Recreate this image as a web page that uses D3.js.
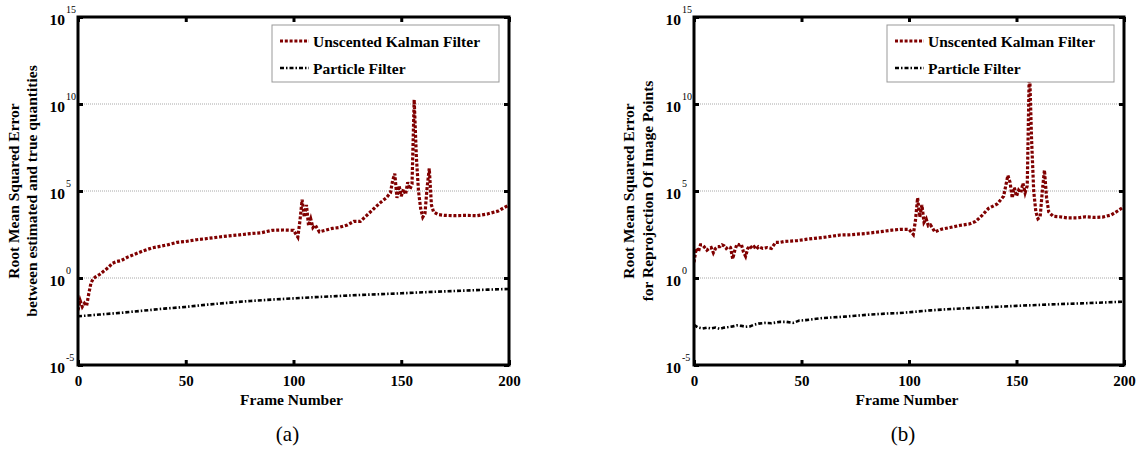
<!DOCTYPE html>
<html>
<head>
<meta charset="utf-8">
<script src="https://cdn.jsdelivr.net/npm/d3@7"></script>
<style>
  body { margin: 0; background: #fff; }
  svg { display: block; }
  svg text { font-family: "Liberation Serif", "DejaVu Serif", Times, serif !important; }
</style>
</head>
<body>
<svg id="chart" width="1139" height="452"></svg>
<script>
// values as log10 of the RMSE, [frame, log10]
const frameTicks = [0, 50, 100, 150, 200];
const decadeTicks = [-5, 0, 5, 10, 15];
const gridDecades = [0, 5, 10];

const ukfA = [[0,-1.85],[1,-1.3],[2,-1.65],[3,-1.45],[4,-1.6],[5,-0.9],[6,-0.3],[7,-0.05],[8,0.05],
  [10,0.2],[12,0.4],[14,0.6],[16,0.85],[18,0.95],[20,1.0],[23,1.2],[26,1.35],[30,1.55],[34,1.72],
  [38,1.82],[42,1.92],[46,2.05],[50,2.1],[55,2.2],[60,2.27],[65,2.35],[70,2.42],[75,2.48],[80,2.55],
  [85,2.6],[90,2.74],[95,2.76],[100,2.74],[102,2.35],[103,3.3],[104,4.5],[105,3.5],[106,4.2],[107,3.0],
  [108,3.4],[109,2.9],[110,3.05],[112,2.65],[115,2.75],[118,2.85],[121,2.9],[125,3.05],[128,3.25],
  [131,3.25],[134,3.6],[137,3.95],[140,4.3],[143,4.6],[145,4.9],[146,5.6],[147,6.0],[148,4.6],[149,5.3],
  [150,4.7],[151,5.1],[152,4.8],[153,5.5],[154,5.1],[155,5.4],[156,10.25],[157,7.0],[158,5.0],[159,4.0],
  [160,3.5],[161,3.7],[162,5.2],[163,6.3],[164,4.2],[165,3.8],[167,3.65],[170,3.6],[175,3.58],[180,3.6],
  [185,3.58],[190,3.68],[195,3.85],[200,4.2]];

const pfA = [[0,-2.2],[10,-2.1],[20,-2.0],[30,-1.88],[40,-1.76],[50,-1.66],[60,-1.53],[70,-1.42],
  [80,-1.32],[90,-1.24],[100,-1.17],[110,-1.1],[120,-1.04],[130,-0.98],[140,-0.93],[150,-0.88],
  [160,-0.82],[170,-0.77],[180,-0.72],[190,-0.67],[200,-0.63]];

const ukfB = [[0,0.9],[1,1.7],[2,1.5],[3,1.9],[4,1.9],[5,1.75],[6,1.6],[7,1.7],[8,1.75],[9,1.45],
  [10,1.7],[11,1.8],[12,1.8],[13,1.9],[14,1.85],[15,1.7],[16,1.8],[17,1.75],[18,1.1],[19,1.6],[20,1.95],
  [21,1.9],[22,1.95],[23,1.5],[24,1.25],[25,1.7],[26,1.85],[27,1.7],[28,1.8],[29,1.65],[30,1.8],
  [32,1.7],[34,1.75],[36,1.7],[38,2.05],[40,2.05],[42,2.1],[45,2.12],[48,2.15],[52,2.22],[56,2.28],
  [60,2.33],[64,2.4],[68,2.47],[72,2.48],[76,2.52],[80,2.56],[84,2.62],[88,2.68],[92,2.75],[96,2.8],
  [100,2.8],[102,2.5],[103,3.3],[104,4.6],[105,3.5],[106,4.2],[107,3.2],[108,3.4],[109,3.0],[110,3.05],
  [112,2.65],[115,2.8],[119,2.9],[124,3.03],[128,3.1],[131,3.25],[134,3.6],[137,4.0],[141,4.25],
  [144,4.7],[146,5.9],[147,5.5],[148,4.6],[149,5.2],[150,4.7],[151,5.05],[152,4.9],[153,5.45],[154,4.9],
  [155,5.3],[156,12.3],[157,8.0],[158,5.0],[159,3.8],[160,3.4],[161,3.5],[162,5.0],[163,6.2],[164,4.6],
  [165,3.8],[167,3.55],[170,3.52],[174,3.45],[178,3.45],[182,3.52],[186,3.48],[190,3.5],[194,3.62],
  [197,3.85],[200,4.1]];

const pfB = [[0,-2.7],[2,-2.85],[4,-2.9],[6,-2.85],[8,-2.9],[10,-2.85],[12,-2.92],[14,-2.85],[16,-2.82],
  [18,-2.78],[20,-2.72],[22,-2.75],[24,-2.8],[26,-2.78],[28,-2.68],[30,-2.62],[33,-2.58],[36,-2.6],
  [40,-2.52],[43,-2.52],[46,-2.58],[49,-2.45],[52,-2.42],[56,-2.36],[60,-2.3],[65,-2.26],[70,-2.22],
  [75,-2.17],[80,-2.12],[85,-2.08],[90,-2.04],[95,-2.02],[100,-1.97],[110,-1.86],[120,-1.78],
  [130,-1.72],[140,-1.66],[150,-1.6],[160,-1.55],[170,-1.5],[180,-1.46],[190,-1.41],[200,-1.36]];

const legendNames = ["Unscented Kalman Filter", "Particle Filter"];

const panels = [
  { left: 78, right: 509, ukf: ukfA, pf: pfA, tag: "(a)",
    ylabel: ["Root Mean Squared Error", "between estimated and true quantities"],
    labelX: [19, 37] },
  { left: 694, right: 1124, ukf: ukfB, pf: pfB, tag: "(b)",
    ylabel: ["Root Mean Squared Error", "for Reprojection Of Image Points"],
    labelX: [634, 653] }
];

const plotTop = 17, plotBottom = 365;
const serif = '"Liberation Serif", "DejaVu Serif", Times, serif';
const svg = d3.select("#chart");

const styles = {
  ukf: { color: "#800000", width: 3.2, dash: "3,1.8" },
  pf: { color: "#000", width: 2.6, dash: "4,2,1.5,2" }
};

panels.forEach((p, i) => {
  let x = d3.scaleLinear().domain([0, 200]).range([p.left, p.right]);
  let y = d3.scaleLog().domain([1e-5, 1e15]).range([plotBottom, plotTop]);

  let g = svg.append("g").attr("font-family", serif);

  //grid lines
  g.selectAll(".grid").data(gridDecades).enter().append("line")
    .attr("x1", p.left).attr("x2", p.right)
    .attr("y1", d => y(Math.pow(10, d))).attr("y2", d => y(Math.pow(10, d)))
    .attr("stroke", "#a8a8a8").attr("stroke-width", 1).attr("stroke-dasharray", "1,1");

  //curves
  g.append("clipPath").attr("id", "clip" + i).append("rect")
    .attr("x", p.left).attr("y", plotTop).attr("width", p.right - p.left).attr("height", plotBottom - plotTop);

  let line = d3.line().x(d => x(d[0])).y(d => y(Math.pow(10, d[1])));
  [["pf", p.pf], ["ukf", p.ukf]].forEach(([k, data]) => {
    g.append("path").datum(data)
      .attr("clip-path", `url(#clip${i})`)
      .attr("d", line)
      .attr("fill", "none")
      .attr("stroke", styles[k].color)
      .attr("stroke-width", styles[k].width)
      .attr("stroke-dasharray", styles[k].dash);
  });

  //axes, ticks pointing inward
  let xb = g.append("g").attr("transform", `translate(0,${plotBottom})`)
    .call(d3.axisBottom(x).tickValues(frameTicks).tickSize(-5).tickPadding(10));
  let xt = g.append("g").attr("transform", `translate(0,${plotTop})`)
    .call(d3.axisTop(x).tickValues(frameTicks).tickSize(-5).tickFormat(""));
  let yl = g.append("g").attr("transform", `translate(${p.left},0)`)
    .call(d3.axisLeft(y).tickValues(decadeTicks.map(d => Math.pow(10, d))).tickSize(-5).tickFormat(""));
  let yr = g.append("g").attr("transform", `translate(${p.right},0)`)
    .call(d3.axisRight(y).tickValues(decadeTicks.map(d => Math.pow(10, d))).tickSize(-5).tickFormat(""));

  [xb, xt, yl, yr].forEach(a => {
    a.attr("font-family", serif);
    a.select(".domain").remove();
    a.selectAll(".tick line").attr("stroke", "#000").attr("stroke-width", 3);
  });

  xb.selectAll(".tick text")
    .attr("font-weight", "bold")
    .attr("font-size", 15).attr("fill", "#000");

  //10^n labels
  yl.selectAll(".tick").each(function(d) {
    let t = d3.select(this);
    let e = Math.round(Math.log10(d));
    t.append("text").text("10")
      .attr("x", -13).attr("y", 7).attr("text-anchor", "end")
      .attr("font-weight", "bold").attr("font-size", 15.5).attr("fill", "#000");
    t.append("text").text(e)
      .attr("x", -12).attr("y", -5).attr("text-anchor", "start")
      .attr("font-size", 10).attr("fill", "#000");
  });

  //frame
  g.append("rect")
    .attr("x", p.left).attr("y", plotTop)
    .attr("width", p.right - p.left).attr("height", plotBottom - plotTop)
    .attr("fill", "none").attr("stroke", "#000").attr("stroke-width", 3);

  //legend
  let lx = p.right - 237, ly = 25;
  let leg = g.append("g");
  leg.append("rect").attr("x", lx).attr("y", ly).attr("width", 227).attr("height", 57)
    .attr("fill", "#fff").attr("stroke", "#999").attr("stroke-width", 1);
  ["ukf", "pf"].forEach((k, j) => {
    let yy = ly + 16 + j * 27;
    leg.append("line")
      .attr("x1", lx + 8).attr("x2", lx + 37).attr("y1", yy).attr("y2", yy)
      .attr("stroke", styles[k].color).attr("stroke-width", styles[k].width)
      .attr("stroke-dasharray", styles[k].dash);
    leg.append("text").text(legendNames[j])
      .attr("x", lx + 41).attr("y", yy + 6)
      .attr("font-weight", "bold").attr("font-size", 15.5).attr("fill", "#000");
  });

  //labels
  let cx = (p.left + p.right) / 2;
  g.append("text").text("Frame Number")
    .attr("x", cx - 2).attr("y", 405).attr("text-anchor", "middle")
    .attr("font-weight", "bold").attr("font-size", 15.5);
  g.append("text").text(p.tag)
    .attr("x", cx - 6).attr("y", 441).attr("text-anchor", "middle")
    .attr("font-size", 21);

  p.ylabel.forEach((s, j) => {
    g.append("text").text(s)
      .attr("transform", `translate(${p.labelX[j]},${(plotTop + plotBottom) / 2}) rotate(-90)`)
      .attr("text-anchor", "middle")
      .attr("font-weight", "bold").attr("font-size", 15.5);
  });
});
</script>
</body>
</html>
